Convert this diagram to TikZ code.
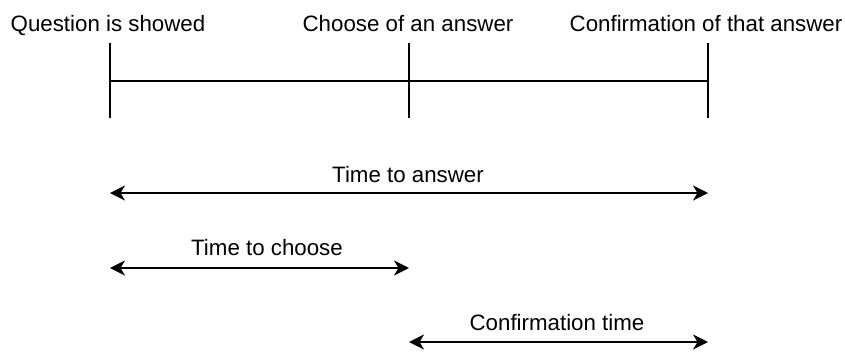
\documentclass[tikz,border=0pt]{standalone}
\usepackage{fontspec}
\setmainfont{Liberation Sans}
\usetikzlibrary{arrows.meta}
\begin{document}
\begin{tikzpicture}[x=1pt,y=-1pt,
  lbl/.style={anchor=base,inner sep=0pt,font=\fontsize{22.3}{26}\selectfont},
  tline/.style={line width=1.4pt,black},
  tip/.style={Stealth[length=15pt,width=15pt,inset=4.5pt]},
  span/.style={line width=1.6pt,black,{Stealth[length=15pt,width=15pt,inset=4.5pt]}-{Stealth[length=15pt,width=15pt,inset=4.5pt]}}]
  \useasboundingbox (0,0) rectangle (845,351);

  % event ticks on the timeline
  \coordinate (qtop) at (110,43);  \coordinate (qbot) at (110,118);
  \coordinate (ctop) at (409,43);  \coordinate (cbot) at (409,118);
  \coordinate (ftop) at (708,43);  \coordinate (fbot) at (708,118);
  \coordinate (qmid) at (110,81);  \coordinate (fmid) at (708,81);

  \node[lbl] (q) at (108,31) {Question is showed};
  \node[lbl] (c) at (408,31) {Choose of an answer};
  \node[lbl] (f) at (706,31) {Confirmation of that answer};

  \draw[tline] (qtop) -- (qbot);
  \draw[tline] (ctop) -- (cbot);
  \draw[tline] (ftop) -- (fbot);
  \draw[tline] (qmid) -- (fmid);

  % durations
  \coordinate (a1) at (110,193); \coordinate (a2) at (708,193);
  \coordinate (b1) at (110,268); \coordinate (b2) at (409,268);
  \coordinate (d1) at (409,342); \coordinate (d2) at (708,342);

  \node[lbl] (ta) at (408,182) {Time to answer};
  \node[lbl] (tc) at (267,255) {Time to choose};
  \node[lbl] (tf) at (557,330) {Confirmation time};

  \draw[span] (a1) -- (a2);
  \draw[span] (b1) -- (b2);
  \draw[span] (d1) -- (d2);
\end{tikzpicture}
\end{document}
